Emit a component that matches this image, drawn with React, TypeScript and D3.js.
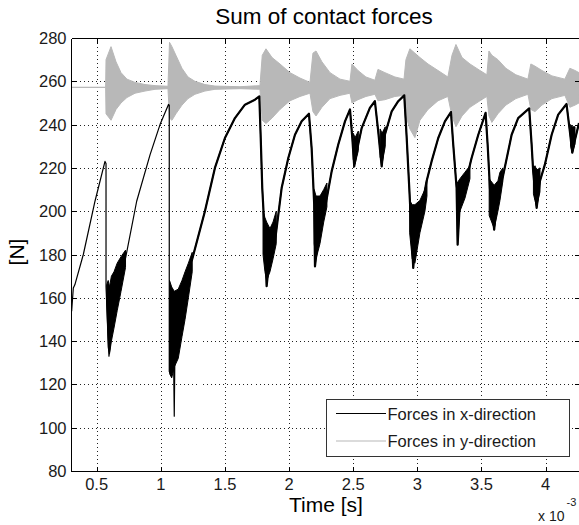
import * as d3 from 'd3';

const W = 579;
const H = 525;
const box = { left: 71, top: 38, right: 580, bottom: 471 };
const FONT = '"Liberation Sans", Arial, Helvetica, sans-serif';

const xTicks = [0.5, 1, 1.5, 2, 2.5, 3, 3.5, 4];
const yTicks = [80, 100, 120, 140, 160, 180, 200, 220, 240, 260, 280];

// Forces in x-direction: [time (x1e-3 s), force N]
const xForce: [number, number][] = [
  [0.305, 153.8], [0.318, 164.5], [0.33, 166], [0.396, 180], [0.487, 204.6], [0.565, 223], [0.573, 222],
  [0.573, 165], [0.596, 133], [0.63, 150], [0.682, 168], [0.721, 177], [0.812, 204.6], [0.916, 226],
  [0.994, 240], [1.06, 249.3], [1.066, 249], [1.066, 126], [1.1, 130], [1.105, 105.3], [1.11, 135],
  [1.136, 145], [1.189, 160], [1.241, 177], [1.344, 200], [1.422, 220], [1.5, 233.8], [1.578, 243],
  [1.656, 249.2], [1.734, 251.5], [1.768, 253], [1.779, 233.8], [1.791, 210.7], [1.812, 187.6],
  [1.825, 165.4], [1.851, 180], [1.89, 186], [1.942, 210.7], [1.994, 224.6], [2.046, 235.3],
  [2.098, 241.5], [2.155, 245], [2.176, 229], [2.196, 203], [2.202, 174.5], [2.241, 195], [2.288, 204],
  [2.332, 218.4], [2.383, 230.7], [2.436, 241.5], [2.475, 247], [2.493, 233.8], [2.508, 220.7],
  [2.529, 228], [2.566, 238.4], [2.63, 247.7], [2.669, 250.8], [2.695, 236.9], [2.722, 220.7],
  [2.747, 235.3], [2.8, 246.1], [2.851, 250.8], [2.898, 253.5], [2.917, 233.8], [2.937, 210.7],
  [2.968, 173.8], [2.989, 190], [3.02, 197], [3.072, 213.8], [3.111, 223], [3.163, 233.8],
  [3.215, 241.5], [3.262, 245.8], [3.28, 230.7], [3.306, 210.7], [3.314, 184.5], [3.332, 205],
  [3.371, 212], [3.423, 224.6], [3.475, 235.3], [3.532, 245.4], [3.548, 230.7], [3.566, 210.7],
  [3.599, 191.5], [3.62, 205], [3.667, 216], [3.735, 235.3], [3.786, 243], [3.872, 247.5],
  [3.891, 230.7], [3.903, 218.4], [3.93, 201.5], [3.956, 214], [3.994, 221.5], [4.047, 235.3],
  [4.098, 244.6], [4.163, 249.5], [4.189, 236.9], [4.208, 227], [4.229, 233], [4.26, 240.7],
];

// noisy stretches after each impact: [time, low, high]
const xForceNoise: [number, number, number][][] = [
  [[0.578, 158, 166], [0.59, 137, 168], [0.6, 134, 165], [0.615, 140, 170], [0.635, 146, 172], [0.66, 154, 176], [0.69, 163, 179], [0.725, 174, 182]],
  [[1.068, 125, 168], [1.085, 123, 165], [1.105, 128, 163], [1.136, 132, 164], [1.165, 142, 168], [1.189, 150, 172], [1.215, 160, 176], [1.245, 172, 181]],
  [[1.797, 180, 200], [1.812, 172, 197], [1.825, 168, 195], [1.851, 172, 192], [1.875, 178, 195], [1.9, 185, 200]],
  [[2.196, 185, 210], [2.21, 178, 207], [2.241, 185, 207], [2.27, 195, 210], [2.295, 202, 213]],
  [[2.5, 224, 236], [2.515, 222, 234], [2.54, 228, 237]],
  [[2.71, 225, 238], [2.725, 222, 236], [2.75, 230, 239]],
  [[2.94, 190, 205], [2.96, 178, 203], [2.981, 176, 203], [3.02, 190, 205], [3.059, 200, 210], [3.075, 207, 215]],
  [[3.31, 198, 213], [3.332, 200, 215], [3.371, 206, 218], [3.41, 215, 221]],
  [[3.56, 198, 215], [3.599, 192, 212], [3.628, 200, 214], [3.644, 205, 218], [3.667, 214, 220]],
  [[3.905, 208, 220], [3.917, 205, 221], [3.93, 202, 219], [3.956, 209, 220]],
  [[4.195, 230, 240], [4.208, 227, 239], [4.229, 231, 239]],
];

// Forces in y-direction, oscillation envelope: [time, low, high]
const yForce: [number, number, number][] = [
  [0.3, 257.2, 257.2], [0.57, 257.2, 257.2],
  [0.573, 245, 270], [0.612, 242, 276], [0.651, 247, 269], [0.69, 250, 264], [0.736, 252.5, 261],
  [0.799, 254.5, 259.5], [0.877, 255.5, 258.5], [0.955, 256.3, 258], [1.056, 256.6, 257.7],
  [1.068, 243, 278], [1.087, 242, 276], [1.118, 245, 272], [1.165, 249, 266], [1.212, 252, 262],
  [1.266, 254, 260], [1.344, 255.5, 258.5], [1.422, 256.3, 257.8], [1.617, 256.6, 257.5], [1.773, 256.3, 258],
  [1.791, 242, 272], [1.82, 240.5, 275], [1.867, 243, 271], [1.929, 247, 268], [2.007, 251, 264],
  [2.085, 253, 261.5], [2.163, 254.5, 259.5],
  [2.186, 246, 273], [2.21, 244, 274], [2.256, 248, 269], [2.319, 252, 264], [2.397, 253.5, 261], [2.475, 254.5, 260],
  [2.49, 250, 268], [2.537, 251.5, 265], [2.599, 253, 262], [2.669, 254, 260.5],
  [2.693, 251, 265.5], [2.747, 251.5, 264], [2.825, 253, 262], [2.896, 253.5, 261],
  [2.911, 244, 270], [2.942, 238, 275], [2.981, 234, 273], [3.02, 242, 271], [3.083, 247, 268],
  [3.161, 251, 265], [3.238, 253, 262],
  [3.27, 244, 272], [3.301, 239, 277], [3.348, 244, 271], [3.41, 248, 268], [3.488, 251, 265], [3.542, 253, 263],
  [3.558, 244, 274], [3.581, 241, 272], [3.628, 245, 270], [3.69, 249, 266], [3.768, 252, 263], [3.862, 254, 261],
  [3.885, 247, 268], [3.917, 246, 267], [3.971, 249, 265], [4.049, 252, 262.5], [4.15, 253.5, 261],
  [4.189, 248, 266], [4.229, 249, 265], [4.26, 250, 264],
];

const legendItems = [
  { label: 'Forces in x-direction', color: '#000000' },
  { label: 'Forces in y-direction', color: '#b8b8b8' },
];

export default function App() {
  const x = d3.scaleLinear().domain([0.3, 4.268]).range([box.left, box.right]);
  const y = d3.scaleLinear().domain([80, 280]).range([box.bottom, box.top]);
  const px = (v: number) => Math.round(x(v)) + 0.5;
  const py = (v: number) => Math.round(y(v)) + 0.5;

  const line = d3.line<[number, number]>().x(d => x(d[0])).y(d => y(d[1]));
  const band = d3.area<[number, number, number]>().x(d => x(d[0])).y0(d => y(d[1])).y1(d => y(d[2]));
  const thick = xForce.filter(d => d[0] >= 1.2);

  const L = box.left + 0.5, R = box.right - 0.5, T = box.top + 0.5, B = box.bottom + 0.5;

  return (
    <div style={{ position: 'fixed', left: 0, top: 0, width: W, height: H, background: '#fff' }}>
      <svg width={W} height={H} style={{ display: 'block', fontFamily: FONT }}>
        <rect width={W} height={H} fill="#fff" />
        <defs>
          <clipPath id="plot">
            <rect x={box.left} y={box.top} width={box.right - box.left} height={box.bottom - box.top} />
          </clipPath>
        </defs>

        {/* grid */}
        <g stroke="#222" strokeWidth={1} strokeDasharray="1 3" shapeRendering="crispEdges">
          {xTicks.map(t => <line key={'gx' + t} x1={px(t)} x2={px(t)} y1={T} y2={B} />)}
          {yTicks.slice(1, -1).map(t => <line key={'gy' + t} x1={L} x2={R} y1={py(t)} y2={py(t)} />)}
        </g>

        <g clipPath="url(#plot)">
          <path d={band(yForce) || ''} fill="#b8b8b8" stroke="#b8b8b8" strokeWidth={1} />
          {xForceNoise.map((seg, i) => (
            <path key={'n' + i} d={band(seg) || ''} fill="#000" stroke="#000" strokeWidth={1} />
          ))}
          <path d={line(xForce) || ''} fill="none" stroke="#000" strokeWidth={1.2} strokeLinejoin="round" />
          <path d={line(thick) || ''} fill="none" stroke="#000" strokeWidth={2.2} strokeLinejoin="round" />
        </g>

        {/* axes box and ticks */}
        <g stroke="#000" strokeWidth={1} shapeRendering="crispEdges">
          <line x1={L} x2={R + 1} y1={T} y2={T} />
          <line x1={L} x2={R + 1} y1={B} y2={B} />
          <line x1={L} x2={L} y1={T} y2={B} />
          {xTicks.map(t => (
            <g key={'tx' + t}>
              <line x1={px(t)} x2={px(t)} y1={B} y2={B - 5} />
              <line x1={px(t)} x2={px(t)} y1={T} y2={T + 5} />
            </g>
          ))}
          {yTicks.map(t => (
            <g key={'ty' + t}>
              <line x1={L} x2={L + 5} y1={py(t)} y2={py(t)} />
              <line x1={R} x2={R - 5} y1={py(t)} y2={py(t)} />
            </g>
          ))}
        </g>

        <g fill="#1a1a1a" fontSize={16.5}>
          {xTicks.map(t => (
            <text key={'lx' + t} x={x(t)} y={490} textAnchor="middle">{String(t)}</text>
          ))}
          {yTicks.map(t => (
            <text key={'ly' + t} x={66.5} y={y(t) + 6} textAnchor="end">{t}</text>
          ))}
        </g>

        <text x={324} y={24} textAnchor="middle" fontSize={22.5} fill="#000">Sum of contact forces</text>
        <text x={326} y={511.5} textAnchor="middle" fontSize={21} fill="#000">Time [s]</text>
        <text transform="translate(23.5,252) rotate(-90)" textAnchor="middle" fontSize={21} fill="#000">[N]</text>
        <text x={538} y={521} fontSize={14} fill="#1a1a1a">x 10</text>
        <text x={566.5} y={506} fontSize={11} fill="#1a1a1a">-3</text>

        {/* legend */}
        <g>
          <rect x={326.5} y={399.5} width={243} height={57} fill="#fff" stroke="#333" strokeWidth={1} shapeRendering="crispEdges" />
          {legendItems.map((it, i) => (
            <g key={it.label} transform={`translate(0,${413 + i * 27.5})`}>
              <line x1={336} x2={386} y1={0.5} y2={0.5} stroke={it.color} strokeWidth={1.2} />
              <text x={387.5} y={6.5} fontSize={16.5} fill="#1a1a1a">{it.label}</text>
            </g>
          ))}
        </g>
      </svg>
    </div>
  );
}
